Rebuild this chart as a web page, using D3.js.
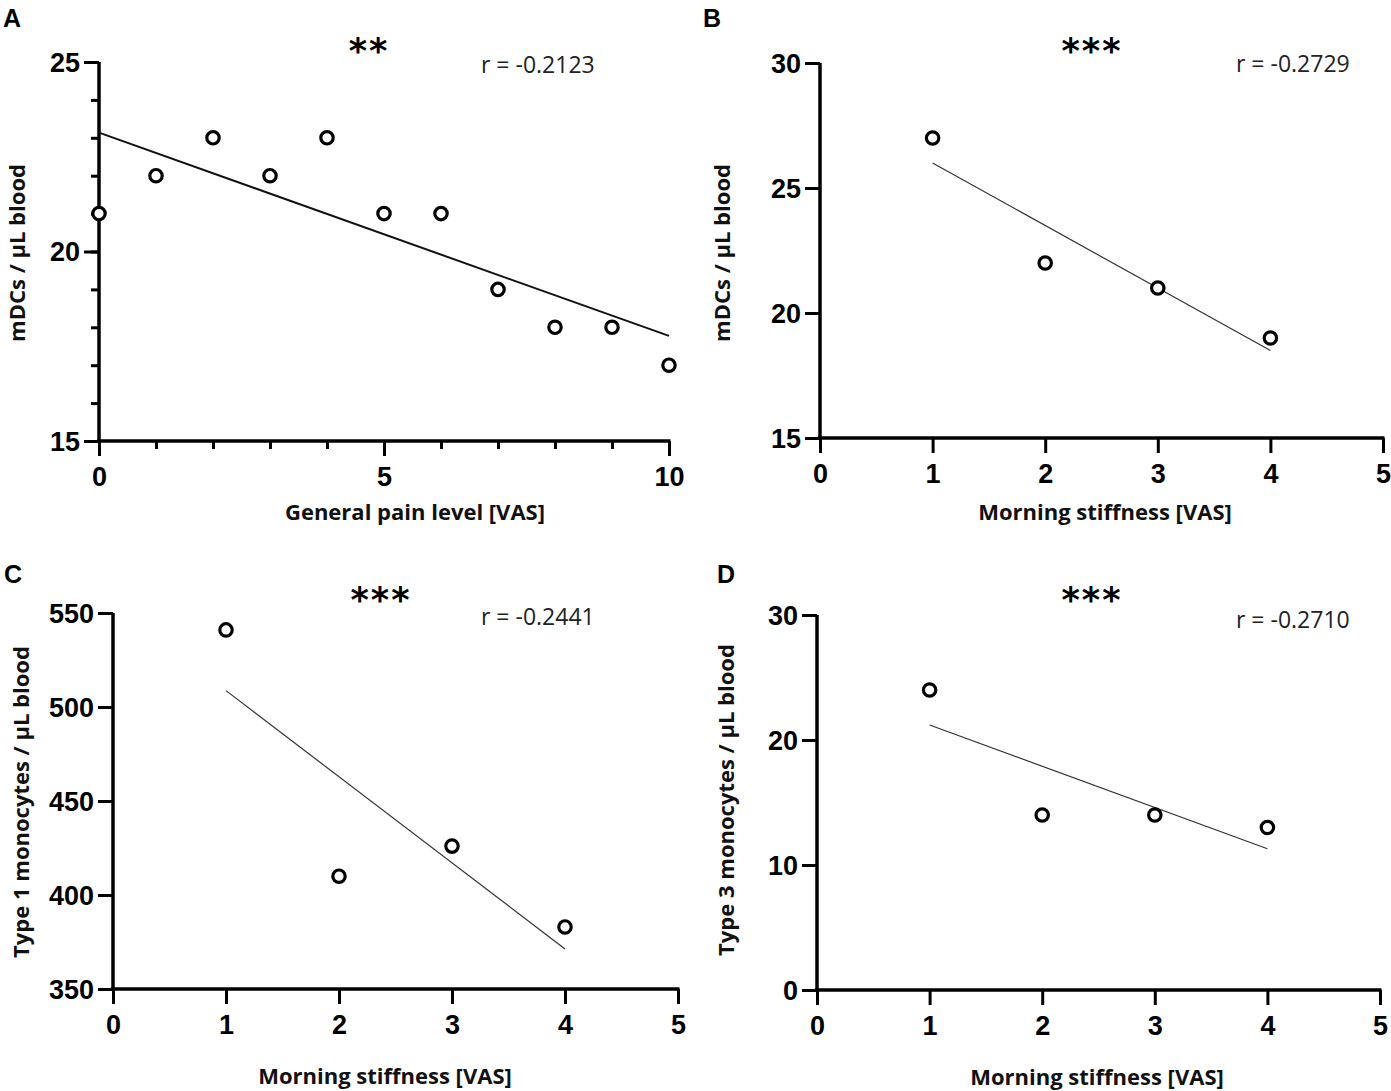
<!DOCTYPE html>
<html>
<head>
<meta charset="utf-8">
<script src="https://cdn.jsdelivr.net/npm/d3@7"></script>
<style>
  html, body { margin: 0; padding: 0; background: #fff; }
  svg { display: block; }
  .tick text { font-family: "Liberation Sans", Arial, sans-serif; font-weight: bold; }
</style>
</head>
<body>
<svg id="chart" width="1391" height="1091"></svg>
<script>
// ---------------- DATA ----------------
const panelLetters = ["A", "B", "C", "D"];
const significance = ["**", "***", "***", "***"];
const rLabels = ["r = -0.2123", "r = -0.2729", "r = -0.2441", "r = -0.2710"];
const xTitles = ["General pain level [VAS]", "Morning stiffness [VAS]", "Morning stiffness [VAS]", "Morning stiffness [VAS]"];
const yTitles = ["mDCs / µL blood", "mDCs / µL blood", "Type 1 monocytes / µL blood", "Type 3 monocytes / µL blood"];

const painLevel = [0, 1, 2, 3, 4, 5, 6, 7, 8, 9, 10];
const mDCsByPain = [21, 22, 23, 22, 23, 21, 21, 19, 18, 18, 17];

const stiffness = [1, 2, 3, 4];
const mDCsByStiffness = [27, 22, 21, 19];
const type1ByStiffness = [541, 410, 426, 383];
const type3ByStiffness = [24, 14, 14, 13];

const xTicksA = [0, 5, 10];
const xMinorA = [0, 1, 2, 3, 4, 5, 6, 7, 8, 9, 10];
const yTicksA = [15, 20, 25];
const yMinorA = [15, 16, 17, 18, 19, 20, 21, 22, 23, 24, 25];

const xTicksStiff = [0, 1, 2, 3, 4, 5];
const yTicksB = [15, 20, 25, 30];
const yTicksC = [350, 400, 450, 500, 550];
const yTicksD = [0, 10, 20, 30];

// ---------------- LAYOUT ----------------
const panels = [
  { xs: painLevel, ys: mDCsByPain, xDom: [0, 10], yDom: [15, 25],
    xR: [99, 669], yR: [441, 62], xTicks: xTicksA, xMinor: xMinorA, yTicks: yTicksA, yMinor: yMinorA,
    letter: [3, 27], stars: [369, 63], r: [481, 73], xt: [415, 520], yt: [25, 253],
    lineW: 2, lineC: "#111" },
  { xs: stiffness, ys: mDCsByStiffness, xDom: [0, 5], yDom: [15, 30],
    xR: [820, 1383], yR: [438, 63], xTicks: xTicksStiff, yTicks: yTicksB,
    letter: [703, 27], stars: [1092, 63], r: [1236, 72], xt: [1105, 520], yt: [730, 253],
    lineW: 1.2, lineC: "#333" },
  { xs: stiffness, ys: type1ByStiffness, xDom: [0, 5], yDom: [350, 550],
    xR: [113, 678], yR: [989, 613], xTicks: xTicksStiff, yTicks: yTicksC,
    letter: [4, 583], stars: [381, 612], r: [481, 625], xt: [385, 1084], yt: [29, 802],
    lineW: 1.2, lineC: "#333" },
  { xs: stiffness, ys: type3ByStiffness, xDom: [0, 5], yDom: [0, 30],
    xR: [817, 1380], yR: [990, 615], xTicks: xTicksStiff, yTicks: yTicksD,
    letter: [717, 583], stars: [1092, 612], r: [1236, 628], xt: [1097, 1085], yt: [734, 800],
    lineW: 1.2, lineC: "#333" }
];

const svg = d3.select("#chart");

function linReg(xs, ys) {
  const n = xs.length;
  const mx = d3.mean(xs), my = d3.mean(ys);
  let sxy = 0, sxx = 0;
  for (let i = 0; i < n; i++) { sxy += (xs[i] - mx) * (ys[i] - my); sxx += (xs[i] - mx) ** 2; }
  const b = sxy / sxx;
  return x => my + b * (x - mx);
}

panels.forEach((p, i) => {
  const g = svg.append("g");
  const x = d3.scaleLinear().domain(p.xDom).range(p.xR);
  const y = d3.scaleLinear().domain(p.yDom).range(p.yR);

  // minor ticks
  if (p.yMinor) {
    g.append("g").attr("transform", `translate(${p.xR[0]},0)`)
      .call(d3.axisLeft(y).tickValues(p.yMinor).tickSize(8).tickFormat(""))
      .call(s => s.select(".domain").remove())
      .selectAll("line").attr("stroke", "#000").attr("stroke-width", 3);
  }
  if (p.xMinor) {
    g.append("g").attr("transform", `translate(0,${p.yR[0]})`)
      .call(d3.axisBottom(x).tickValues(p.xMinor).tickSize(8).tickFormat(""))
      .call(s => s.select(".domain").remove())
      .selectAll("line").attr("stroke", "#000").attr("stroke-width", 3);
  }

  // y axis
  const ya = g.append("g").attr("transform", `translate(${p.xR[0]},0)`)
    .call(d3.axisLeft(y).tickValues(p.yTicks).tickSize(15).tickSizeOuter(0).tickPadding(4).tickFormat(d3.format("d")));
  ya.select(".domain").attr("stroke", "#000").attr("stroke-width", 3.5)
    .attr("d", `M0,${p.yR[0] + 1.75}V${p.yR[1]}`);
  ya.selectAll(".tick line").attr("stroke", "#000").attr("stroke-width", 3);
  ya.selectAll(".tick text").attr("font-size", 27).attr("fill", "#000").attr("dy", "0.35em");

  // x axis
  const xa = g.append("g").attr("transform", `translate(0,${p.yR[0]})`)
    .call(d3.axisBottom(x).tickValues(p.xTicks).tickSize(15).tickSizeOuter(0).tickPadding(11).tickFormat(d3.format("d")));
  xa.select(".domain").attr("stroke", "#000").attr("stroke-width", 3.5)
    .attr("d", `M${p.xR[0] - 1.75},0H${p.xR[1] + 1.5}`);
  xa.selectAll(".tick line").attr("stroke", "#000").attr("stroke-width", 3);
  xa.selectAll(".tick text").attr("font-size", 27).attr("fill", "#000");

  // regression line
  const f = linReg(p.xs, p.ys);
  const x0 = d3.min(p.xs), x1 = d3.max(p.xs);
  g.append("line")
    .attr("x1", x(x0)).attr("y1", y(f(x0)))
    .attr("x2", x(x1)).attr("y2", y(f(x1)))
    .attr("stroke", p.lineC).attr("stroke-width", p.lineW);

  // points
  g.selectAll("circle.pt").data(p.xs.map((v, k) => [v, p.ys[k]])).join("circle")
    .attr("class", "pt")
    .attr("cx", d => x(d[0])).attr("cy", d => y(d[1]))
    .attr("r", 6.2).attr("fill", "#fff").attr("stroke", "#000").attr("stroke-width", 3.2);

  // panel letter
  g.append("text").attr("x", p.letter[0]).attr("y", p.letter[1])
    .attr("font-family", "Liberation Sans, Arial, sans-serif").attr("font-weight", "bold")
    .attr("font-size", 25).text(panelLetters[i]);

  // significance stars
  g.append("text").attr("x", p.stars[0]).attr("y", p.stars[1])
    .attr("text-anchor", "middle")
    .attr("font-family", "DejaVu Sans, sans-serif").attr("font-weight", "bold")
    .attr("font-size", 35).attr("letter-spacing", 2).text(significance[i]);

  // r label
  g.append("text").attr("x", p.r[0]).attr("y", p.r[1])
    .attr("font-family", "Open Sans, sans-serif").attr("font-size", 23)
    .attr("fill", "#222").text(rLabels[i]);

  // x title
  g.append("text").attr("x", p.xt[0]).attr("y", p.xt[1])
    .attr("text-anchor", "middle")
    .attr("font-family", "Open Sans, sans-serif").attr("font-weight", "bold")
    .attr("font-size", 22).attr("fill", "#111").text(xTitles[i]);

  // y title
  g.append("text")
    .attr("transform", `translate(${p.yt[0]},${p.yt[1]}) rotate(-90)`)
    .attr("text-anchor", "middle")
    .attr("font-family", "Open Sans, sans-serif").attr("font-weight", "bold")
    .attr("font-size", 22).attr("fill", "#111").text(yTitles[i]);
});
</script>
</body>
</html>
